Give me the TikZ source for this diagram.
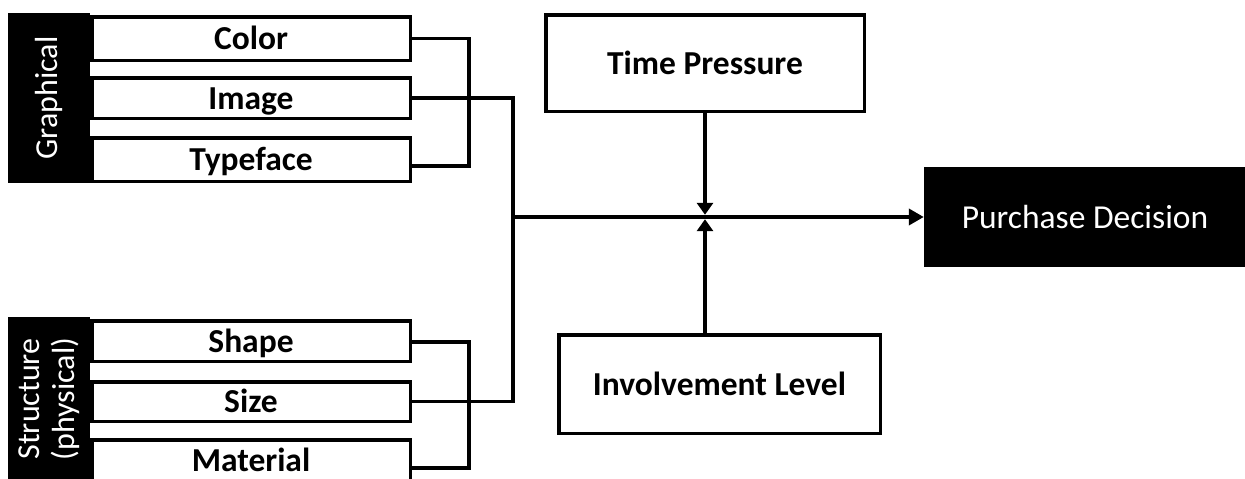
\documentclass[tikz,border=0pt]{standalone}
\usepackage{fontspec}
\setmainfont{Carlito}
\usetikzlibrary{arrows.meta}
\begin{document}
\begin{tikzpicture}[x=1pt,y=-1pt,
  wbox/.style={draw=black, fill=white, line width=3.5pt, inner sep=0pt, rectangle,
    text height=22.5pt, text depth=0pt, font=\fontsize{33.5}{36}\selectfont\bfseries},
  bbox/.style={fill=black, draw=none, inner sep=0pt, rectangle, text=white,
    font=\fontsize{32}{35}\selectfont, align=center},
  conn/.style={line width=3.8pt, draw=black},
  vtip/.style={-{Triangle[length=12pt,width=16pt]}},
  htip/.style={-{Triangle[length=15pt,width=16pt]}}
]
\useasboundingbox (0,0) rectangle (1245,479);
\clip (0,0) rectangle (1245,479);

% category boxes
\node[bbox, rotate=90, minimum width=170pt, minimum height=82pt] (G) at (49,98) {Graphical};
\node[bbox, rotate=90, minimum width=164pt, minimum height=82pt] (S) at (49,399) {Structure\\(physical)};

% attribute boxes
\node[wbox, minimum width=318.5pt, minimum height=43.5pt] (Color) at (251,38.5) {Color};
\node[wbox, minimum width=318.5pt, minimum height=40.5pt] (Image) at (251,98) {Image};
\node[wbox, minimum width=318.5pt, minimum height=43.5pt] (Typeface) at (251,159.5) {Typeface};
\node[wbox, minimum width=318.5pt, minimum height=40.5pt] (Shape) at (251,341) {Shape};
\node[wbox, minimum width=318.5pt, minimum height=39.5pt] (Size) at (251,401.5) {Size};
\node[wbox, minimum width=318.5pt, minimum height=40.5pt] (Material) at (251,460) {Material};

% moderators and outcome
\node[wbox, minimum width=318.5pt, minimum height=96.5pt] (TP) at (705,63) {Time Pressure};
\node[wbox, minimum width=321.5pt, minimum height=98.5pt] (IL) at (719.5,384) {Involvement Level};
\node[bbox, minimum width=322pt, minimum height=100pt, font=\fontsize{33.5}{36}\selectfont,
  text height=22pt, text depth=0pt] (PD) at (1085,217) {Purchase Decision};

\coordinate (J) at (513,217);
\coordinate (X) at (705,217);

% brackets
\draw[conn] (Color.east) -- ++(57,0) |- ([yshift=-6.5pt]Typeface.east);
\draw[conn] ([yshift=-1pt]Shape.east) -- ++(57,0) |- ([yshift=-8pt]Material.east);
\draw[conn] (Image.east) -- ++(101,0) |- (Size.east);

% main path
\draw[conn, htip] (J) -- (PD.west);
\draw[conn, vtip] (TP.south) -- ([yshift=2.2pt]X);
\draw[conn, vtip] (IL.north -| X) -- ([yshift=-2.2pt]X);
\end{tikzpicture}
\end{document}
